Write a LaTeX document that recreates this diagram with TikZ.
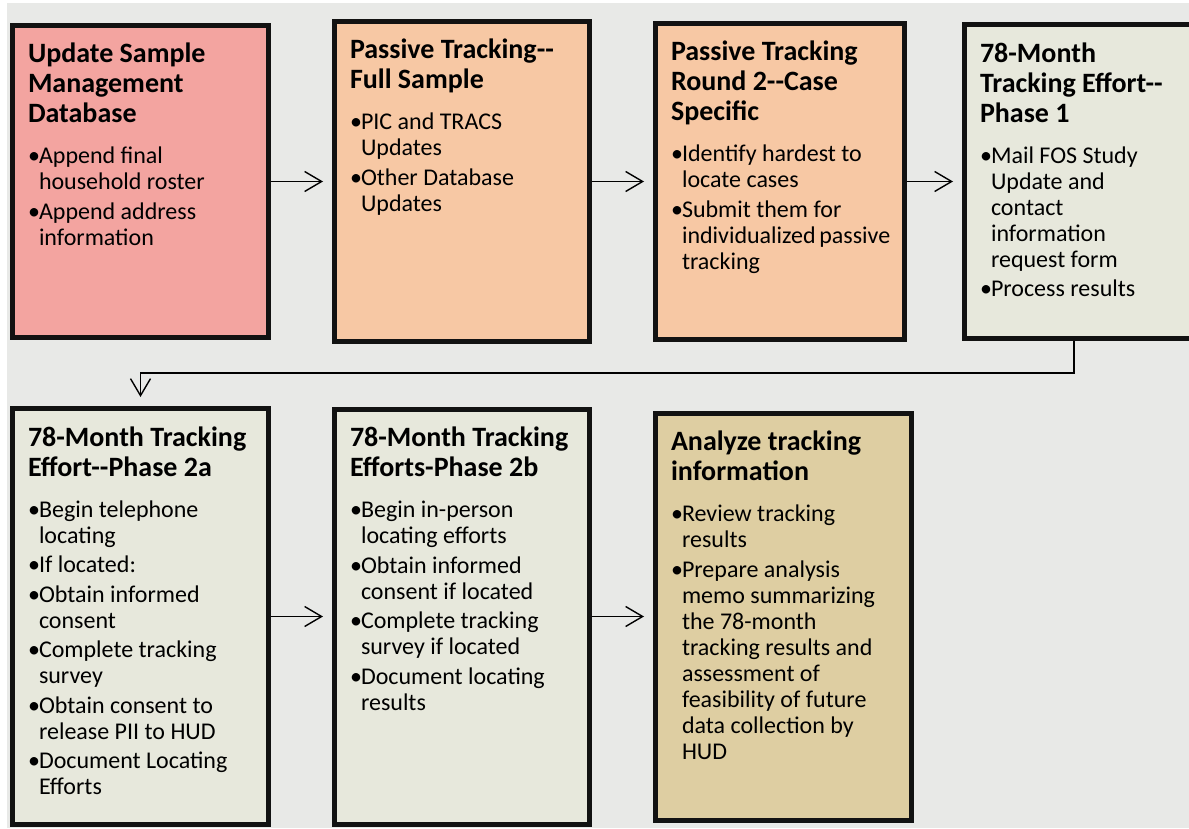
\documentclass[tikz,border=0pt]{standalone}
\usepackage{fontspec}
\setmainfont{Carlito}
\usetikzlibrary{arrows.meta,positioning}

\definecolor{bgcol}{RGB}{232,233,231}
\definecolor{pinkfill}{RGB}{243,164,160}
\definecolor{peachfill}{RGB}{247,200,164}
\definecolor{palefill}{RGB}{231,232,220}
\definecolor{tanfill}{RGB}{222,206,162}
\definecolor{edgecol}{RGB}{18,18,18}

\newcommand{\dhy}{-\kern0pt-}
\newcommand{\bitem}{\par\noindent\llap{\makebox[11pt][l]{\textbullet}}}
\newcommand{\stagetext}[4]{%
  \parbox[c][#2][t]{#1}{\raggedright\hyphenpenalty=10000 \exhyphenpenalty=10000
    {\fontsize{28pt}{30pt}\bfseries\strut #3\par}%
    \vspace{11.5pt}%
    \leftskip=11pt \parskip=3.5pt
    \fontsize{24pt}{26pt}\selectfont #4}}

\begin{document}
\begin{tikzpicture}[
    x=1pt, y=1pt,
    stage/.style={rectangle, draw=edgecol, line width=5pt, inner xsep=15.5pt, inner ysep=16.5pt},
    flow/.style={-{Straight Barb[length=17pt, width=20pt]}, line width=1.4pt, shorten >=9pt}
]
    \useasboundingbox (0,0) rectangle (1189,-829);
    \fill[bgcol] (7,-3) rectangle (1189,-828);

    \node (update) [stage, fill=pinkfill] at (140.5,-181.5) {\stagetext{225pt}{279pt}{Update Sample\\Management\\Database}{\bitem Append final\\household roster \bitem Append address\\information}};
    \node (fullsample) [stage, fill=peachfill, right=61pt of update] {\stagetext{224pt}{287pt}{Passive Tracking\dhy\\Full Sample}{\bitem PIC and TRACS\\Updates \bitem Other Database\\Updates}};
    \node (casespec) [stage, fill=peachfill, right=61pt of fullsample] {\stagetext{218pt}{283pt}{Passive Tracking\\Round 2\dhy Case\\Specific}{\bitem Identify hardest to\\locate cases \bitem Submit them for\\individualized~passive\\tracking}};
    \node (phase1) [stage, fill=palefill, right=55pt of casespec] {\stagetext{240pt}{280pt}{78-Month\\Tracking Effort\dhy\\Phase 1}{\bitem Mail FOS Study\\Update and\\contact\\information\\request form \bitem Process results}};

    \node (phase2a) [stage, fill=palefill, below=66pt of update] {\stagetext{225pt}{383pt}{78-Month Tracking\\Effort\dhy Phase 2a}{\bitem Begin telephone\\locating \bitem If located: \bitem Obtain informed\\consent \bitem Complete tracking\\survey \bitem Obtain consent to\\release PII to HUD \bitem Document Locating\\Efforts}};
    \node (phase2b) [stage, fill=palefill, right=61pt of phase2a] {\stagetext{224pt}{382pt}{78-Month Tracking\\Efforts-Phase 2b}{\bitem Begin in-person\\locating efforts \bitem Obtain informed\\consent if located \bitem Complete tracking\\survey if located \bitem Document locating\\results}};
    \node (analyze) [stage, fill=tanfill, right=61pt of phase2b] {\stagetext{225pt}{374pt}{Analyze tracking\\information}{\bitem Review tracking\\results \bitem Prepare analysis\\memo summarizing\\the 78-month\\tracking results and\\assessment of\\feasibility of future\\data collection by\\HUD}};

    \draw[flow] (update) -- (fullsample);
    \draw[flow] (fullsample) -- (casespec);
    \draw[flow] (casespec) -- (phase1);
    \draw[flow] ([xshift=-26pt]phase1.south) -- ++(0,-32.5) -| (phase2a);
    \draw[flow] (phase2a) -- (phase2b);
    \draw[flow] (phase2b) -- (analyze);
\end{tikzpicture}
\end{document}
